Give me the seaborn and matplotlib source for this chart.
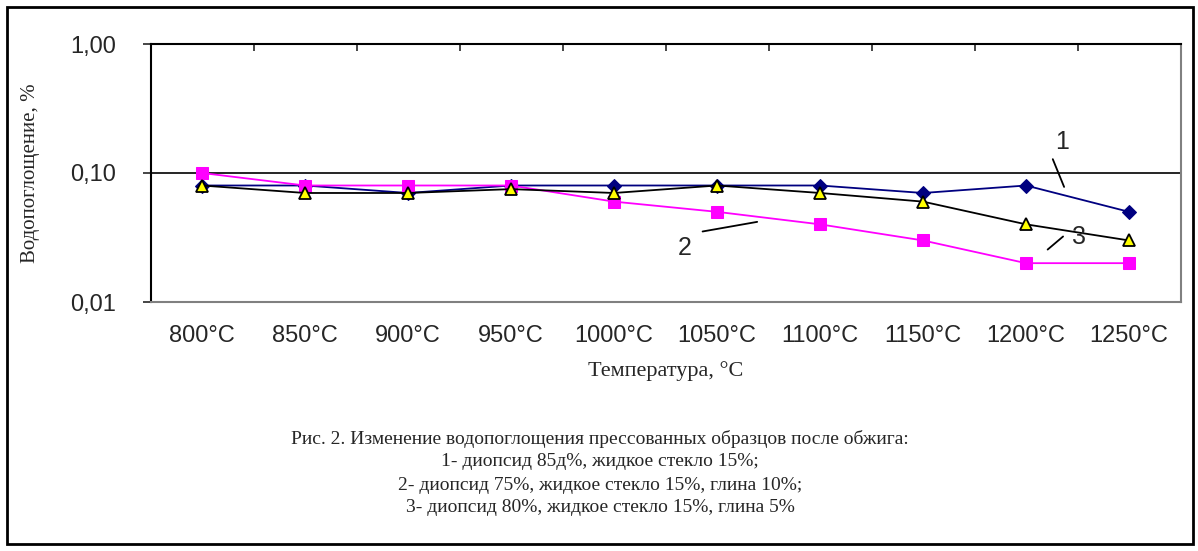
"""
Water absorption of pressed samples after firing (log scale).
"""

import matplotlib

matplotlib.use("Agg")
import matplotlib.pyplot as plt
import matplotlib.patches as mpatches
import seaborn as sns

temps = ["800°C", "850°C", "900°C", "950°C", "1000°C",
         "1050°C", "1100°C", "1150°C", "1200°C", "1250°C"]
series_1 = [0.08, 0.08, 0.07, 0.08, 0.08, 0.08, 0.08, 0.07, 0.08, 0.05]
series_2 = [0.10, 0.08, 0.08, 0.08, 0.06, 0.05, 0.04, 0.03, 0.02, 0.02]
series_3 = [0.08, 0.07, 0.07, 0.075, 0.07, 0.08, 0.07, 0.06, 0.04, 0.03]
y_ticks = [0.01, 0.1, 1.0]
y_tick_labels = ["0,01", "0,10", "1,00"]

caption = [
    "Рис. 2. Изменение водопоглощения прессованных образцов после обжига:",
    "1- диопсид 85д%, жидкое стекло 15%;",
    "2- диопсид 75%, жидкое стекло 15%, глина 10%;",
    "3- диопсид 80%, жидкое стекло 15%, глина 5%",
]

sns.set_style("white")
plt.rcParams["font.family"] = ["Liberation Sans", "DejaVu Sans"]

fig = plt.figure(figsize=(11.98, 5.51), dpi=100)
ax = fig.add_axes([150.5 / 1198, 1 - 302 / 551, 1030 / 1198, 258 / 551])

sns.lineplot(x=temps, y=series_1, ax=ax, color="#000080", marker="D",
             markersize=7, markeredgecolor="#000080", linewidth=1.3, sort=False)
sns.lineplot(x=temps, y=series_2, ax=ax, color="#FF00FF", marker="s",
             markersize=8, markeredgecolor="#FF00FF", linewidth=1.3, sort=False)
sns.lineplot(x=temps, y=series_3, ax=ax, color="black", marker="^",
             markersize=9, markerfacecolor="#FFFF00", markeredgecolor="black",
             markeredgewidth=1.3, linewidth=1.3, sort=False)

ax.set_yscale("log")
ax.set_ylim(0.01, 1.0)
ax.set_xlim(-0.5, len(temps) - 0.5)
ax.set_yticks(y_ticks)
ax.set_yticklabels(y_tick_labels)
ax.yaxis.set_minor_locator(matplotlib.ticker.NullLocator())
ax.axhline(0.1, color="black", linewidth=1.2, zorder=1)

ax.tick_params(axis="y", which="major", direction="out", length=5.5, width=1.2,
               left=True, labelsize=17, pad=19)
ax.tick_params(axis="x", which="major", bottom=False, labelsize=17, pad=13)
# Excel-style category boundary ticks on top edge
ax.set_xticks([i - 0.5 for i in range(1, len(temps))], minor=True)
ax.tick_params(axis="x", which="minor", top=True, bottom=False, direction="in",
               length=5, width=1.2)

for side in ("left", "top"):
    ax.spines[side].set_color("black")
    ax.spines[side].set_linewidth(1.5)
for side in ("right", "bottom"):
    ax.spines[side].set_color("#808080")
    ax.spines[side].set_linewidth(1.5)

ax.set_xlabel("Температура, °C", family="Liberation Serif", fontsize=16,
              labelpad=10)
ax.set_ylabel("Водопоглощение, %", family="Liberation Serif", fontsize=15)
ax.yaxis.set_label_coords(-0.107, 0.5)

# curve labels with leader lines (data coords: category index, value)
labels = [
    ("1", (8.35, 0.174), (8.26, 0.128), (8.37, 0.078)),
    ("2", (4.69, 0.026), (4.86, 0.0352), (5.39, 0.0418)),
    ("3", (8.51, 0.0319), (8.21, 0.0255), (8.36, 0.0322)),
]
for text, text_pos, start, end in labels:
    ax.text(*text_pos, text, fontsize=18, ha="center", va="center")
    ax.annotate("", xy=end, xytext=start,
                arrowprops=dict(arrowstyle="-", color="black", lw=1.3,
                                shrinkA=0, shrinkB=0))

for i, line in enumerate(caption):
    fig.text(600 / 1198, 1 - (439 + 23 * i) / 551, line,
             family="Liberation Serif", fontsize=14, ha="center", va="center")

fig.patches.append(mpatches.Rectangle((7 / 1198, 7 / 551), 1186 / 1198, 537 / 551,
                                      transform=fig.transFigure, fill=False,
                                      edgecolor="black", linewidth=2))

fig.savefig("out.png", dpi=100)
